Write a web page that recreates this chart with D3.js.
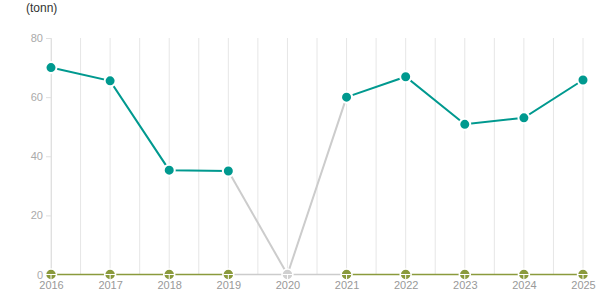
<!DOCTYPE html>
<html><head><meta charset="utf-8">
<script src="https://cdn.jsdelivr.net/npm/d3@7"></script>
<style>body{margin:0;background:#fff}svg{display:block;font-family:"Liberation Sans",Arial,sans-serif}</style>
</head><body><svg id="c" width="615" height="305"></svg>
<script>
const years = [2016,2017,2018,2019,2020,2021,2022,2023,2024,2025];
const mainValues = [70,65.5,35.3,35.0,null,60,66.9,50.8,53.0,65.8];
const zeroValues = [0,0,0,0,null,0,0,0,0,0];
const yTicks = [0,20,40,60,80];
const unitLabel = "(tonn)";

const svg = d3.select("#c");
const x = d3.scaleLinear().domain([2016,2025]).range([51,583]);
const y = d3.scaleLinear().domain([0,80]).range([274.5,38]);

// vertical gridlines at half steps
const grid = d3.range(2016,2025.01,0.5);
svg.append("g").selectAll("line").data(grid).join("line")
  .attr("x1",d=>x(d)).attr("x2",d=>x(d)).attr("y1",y(80)).attr("y2",y(0))
  .attr("stroke","#e6e6e6").attr("stroke-width",1);

// y axis
const yAxis = svg.append("g").attr("transform",`translate(${x(2016)},0)`)
  .call(d3.axisLeft(y).tickValues(yTicks).tickSize(5).tickPadding(3));
yAxis.select(".domain").attr("stroke","#e0e0e0");
yAxis.selectAll(".tick line").attr("stroke","#e0e0e0");
yAxis.selectAll("text").attr("fill","#aaa").attr("font-size",11).attr("font-family","Liberation Sans, Arial, sans-serif");

// x axis labels
const xAxis = svg.append("g").attr("transform",`translate(0,${y(0)})`)
  .call(d3.axisBottom(x).tickValues(years).tickFormat(d3.format("d")).tickSize(0).tickPadding(7));
xAxis.select(".domain").remove();
xAxis.selectAll("text").attr("fill","#999").attr("font-size",11).attr("font-family","Liberation Sans, Arial, sans-serif");

svg.append("text").attr("x",26).attr("y",12).attr("fill","#333").attr("font-size",12).text(unitLabel);

function drawSeries(vals,color,w){
  const pts = years.map((yr,i)=>({yr,v:vals[i]}));
  for(let i=0;i<pts.length;i++){
    if(pts[i].v===null){
      const prev = pts[i-1], next = pts[i+1];
      const g = svg.append("g");
      if(prev) g.append("line").attr("x1",x(prev.yr)).attr("y1",y(prev.v)).attr("x2",x(pts[i].yr)).attr("y2",y(0)).attr("stroke","#cccccc").attr("stroke-width",w);
      if(next) g.append("line").attr("x1",x(pts[i].yr)).attr("y1",y(0)).attr("x2",x(next.yr)).attr("y2",y(next.v)).attr("stroke","#cccccc").attr("stroke-width",w);
    }
  }
  const line = d3.line().defined(d=>d.v!==null).x(d=>x(d.yr)).y(d=>y(d.v));
  svg.append("path").datum(pts).attr("d",line).attr("fill","none").attr("stroke",color).attr("stroke-width",w);
  return pts;
}
const pZero = drawSeries(zeroValues,"#8a9a3c",1.5);
const pMain = drawSeries(mainValues,"#00998f",2);

// markers zero series
const zg = svg.append("g").selectAll("g").data(pZero).join("g")
  .attr("transform",d=>`translate(${x(d.yr)},${y(0)})`);
zg.append("circle").attr("r",5.5).attr("fill",d=>d.v===null?"#d0d0d0":"#8a9a3c").attr("stroke","#fff").attr("stroke-width",1.5);
zg.append("line").attr("x1",-5).attr("x2",5).attr("y1",0).attr("y2",0).attr("stroke","#fff").attr("stroke-width",1);
zg.append("line").attr("x1",0).attr("x2",0).attr("y1",0).attr("y2",5).attr("stroke","#fff").attr("stroke-width",1);

// markers main
svg.append("g").selectAll("circle").data(pMain.filter(d=>d.v!==null)).join("circle")
  .attr("cx",d=>x(d.yr)).attr("cy",d=>y(d.v)).attr("r",5.5)
  .attr("fill","#00998f").attr("stroke","#fff").attr("stroke-width",2);
</script></body></html>
